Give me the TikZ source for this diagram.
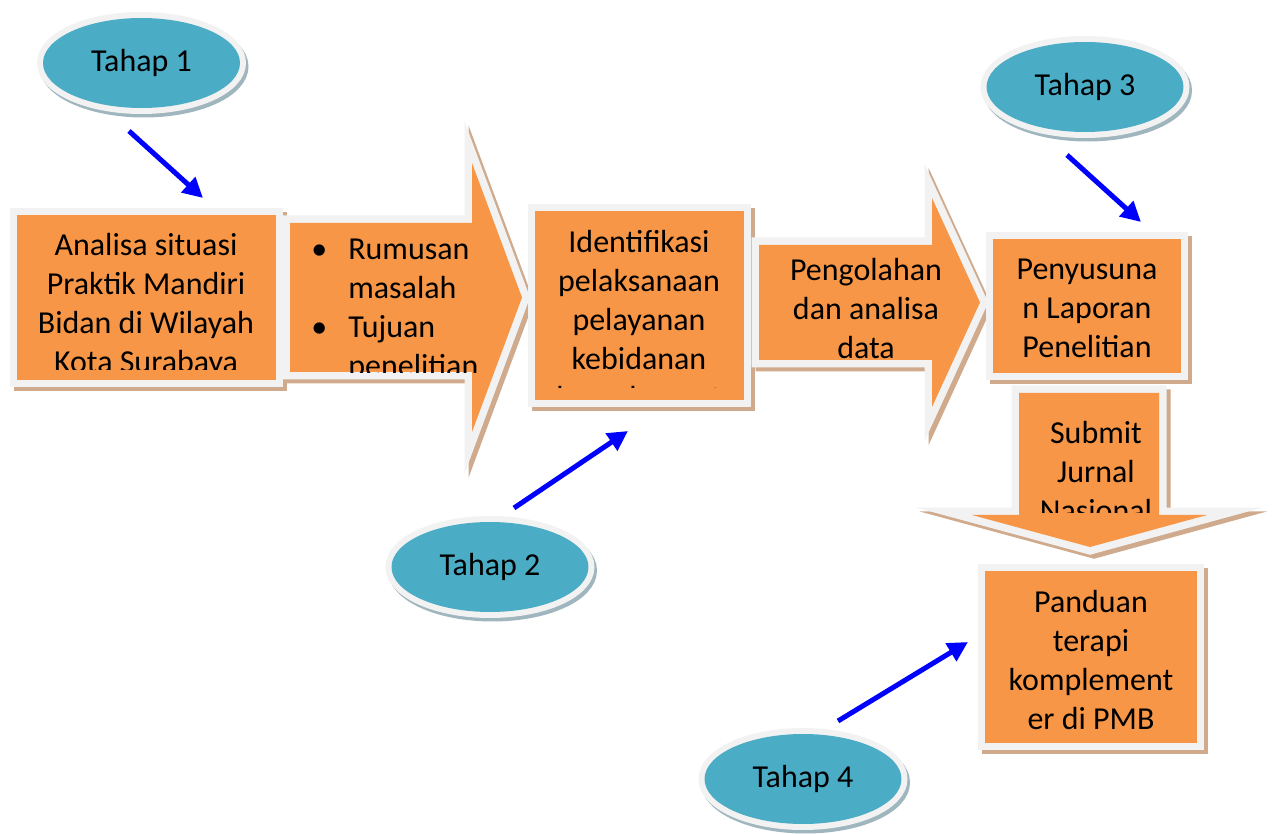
\documentclass[tikz,border=0pt]{standalone}
\usepackage{fontspec}
\setmainfont{Carlito}
\usetikzlibrary{arrows.meta,shapes.geometric}
\definecolor{ink}{HTML}{000000}
\definecolor{boxfill}{HTML}{F79646}
\definecolor{rim}{HTML}{F2F2F2}
\definecolor{boxshade}{HTML}{CFAA8C}
\definecolor{stagefill}{HTML}{4BACC6}
\definecolor{stageshade}{HTML}{9FB6BF}
\definecolor{pointer}{HTML}{0000FF}
\tikzset{
  every node/.style={font=\fontsize{18.2}{22.2}\selectfont, text=ink},
  panel/.style={fill=boxfill,
    preaction={draw=boxshade, fill=boxshade, line width=0.3cm, transform canvas={shift={(0.08cm,-0.08cm)}}},
    preaction={draw=rim, line width=0.3cm}},
  box/.style={panel, rectangle, inner sep=0pt, outer sep=0pt},
  stage/.style={ellipse, fill=stagefill, inner sep=0pt, minimum width=3.94cm, minimum height=1.8cm,
    preaction={draw=stageshade, fill=stageshade, line width=0.24cm, transform canvas={shift={(0.05cm,-0.07cm)}}},
    preaction={draw=rim, line width=0.24cm}},
  txt/.style={align=center, inner sep=0pt},
  ptr/.style={-{Triangle[length=0.4cm,width=0.4cm]}, draw=pointer, line width=0.1cm},
}
\newcommand{\itm}{\makebox[0.74cm][l]{\textbullet}}
\newcommand{\cont}{\hspace*{0.74cm}}

\begin{document}
\begin{tikzpicture}[x=0.02cm, y=-0.02cm]
  \useasboundingbox (0,0) rectangle (1272,834);
  \fill[white] (0,0) rectangle (1272,834);

  % first row
  \node[box, minimum width=5.18cm, minimum height=3.3cm] (b1) at (146.5,297.5) {};
  \begin{scope}
    \clip (17,215) rectangle (276,370);
    \node[txt] (t1) at (146,305) {Analisa situasi\\Praktik Mandiri\\Bidan di Wilayah\\Kota Surabaya};
  \end{scope}

  \path[panel] (290,223) -- (472,223) -- (472,163) -- (522,297.5) -- (472,432) -- (472,372) -- (290,372) -- cycle;
  \begin{scope}
    \clip (290,223) rectangle (490,373);
    \node[txt, align=left, anchor=west] (t2) at (311,310) {\itm Rumusan\\\cont masalah\\\itm Tujuan\\\cont penelitian};
  \end{scope}

  \node[box, minimum width=4.18cm, minimum height=3.78cm] (b2) at (639.5,305.5) {};
  \begin{scope}
    \clip (535,211) rectangle (744,388);
    \node[txt] (t3) at (639,322) {Identifikasi\\pelaksanaan\\pelayanan\\kebidanan\\komplement};
  \end{scope}

  \path[panel] (759,245) -- (932,245) -- (932,198) -- (980,302.5) -- (932,407) -- (932,360) -- (759,360) -- cycle;
  \node[txt] (t4) at (866,308.5) {Pengolahan\\dan analisa\\data};

  % right column
  \path[panel] (1019,393) -- (1159,393) -- (1159,515) -- (1207,515) -- (1090,547) -- (972,515) -- (1019,515) -- cycle;
  \begin{scope}
    \clip (1019,393) rectangle (1159,513);
    \node[txt] (t6) at (1096,472) {Submit\\Jurnal\\Nasional};
  \end{scope}

  \node[box, minimum width=3.76cm, minimum height=2.68cm] (b3) at (1087,306) {};
  \node[txt] (t5) at (1087,308.5) {Penyusuna\\n Laporan\\Penelitian};

  \node[box, minimum width=4.24cm, minimum height=3.44cm] (b4) at (1091,657) {};
  \node[txt] (t7) at (1091,660) {Panduan\\terapi\\komplement\\er di PMB};

  % stages
  \node[stage] (s1) at (141.5,63) {Tahap 1};
  \node[stage] (s2) at (490,567) {Tahap 2};
  \node[stage] (s3) at (1085,87) {Tahap 3};
  \node[stage] (s4) at (803,779) {Tahap 4};

  \coordinate (p1a) at (129,131);
  \coordinate (p1b) at (203,198);
  \coordinate (p2a) at (514,508);
  \coordinate (p2b) at (628,431);
  \coordinate (p3a) at (1067,155);
  \coordinate (p3b) at (1141,222);
  \coordinate (p4a) at (838,721);
  \coordinate (p4b) at (968,642);
  \draw[ptr] (p1a) -- (p1b);
  \draw[ptr] (p2a) -- (p2b);
  \draw[ptr] (p3a) -- (p3b);
  \draw[ptr] (p4a) -- (p4b);
\end{tikzpicture}
\end{document}
